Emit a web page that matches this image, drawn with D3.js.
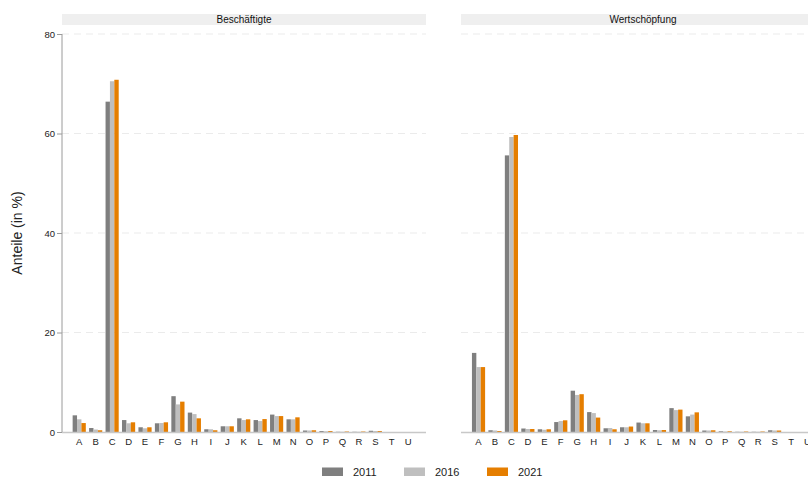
<!DOCTYPE html>
<html><head><meta charset="utf-8">
<script src="https://cdn.jsdelivr.net/npm/d3@7"></script>
<style>body{margin:0;background:#fff;}svg{display:block;font-family:"Liberation Sans",Arial,sans-serif;}</style>
</head><body><svg id="c" width="808" height="478"></svg>
<script>
const categories = ["A","B","C","D","E","F","G","H","I","J","K","L","M","N","O","P","Q","R","S","T","U"];
const years = ["2011","2016","2021"];
const panels = ["Beschäftigte","Wertschöpfung"];
const yTicks = [0,20,40,60,80];
const colors = ["#7f7f7f","#bfbfbf","#e57e00"];
// Beschäftigte
const besch2011 = [3.35,0.8,66.4,2.4,0.95,1.75,7.2,3.9,0.55,1.15,2.75,2.4,3.5,2.55,0.3,0.2,0.05,0.05,0.25,0,0];
const besch2016 = [2.55,0.5,70.5,1.75,0.75,1.8,5.55,3.6,0.55,1.15,2.4,2.2,3.2,2.55,0.3,0.15,0.05,0.05,0.2,0,0];
const besch2021 = [1.8,0.35,70.8,1.95,0.95,1.95,6.1,2.75,0.35,1.15,2.55,2.6,3.2,2.95,0.35,0.2,0.1,0.1,0.2,0,0];
// Wertschöpfung
const wert2011 = [15.9,0.35,55.6,0.7,0.55,2.0,8.3,4.0,0.75,0.95,1.9,0.4,4.8,3.15,0.3,0.15,0.05,0.05,0.35,0,0];
const wert2016 = [13.05,0.3,59.3,0.6,0.45,2.2,7.45,3.8,0.8,0.95,1.75,0.35,4.4,3.5,0.3,0.1,0.05,0.05,0.3,0,0];
const wert2021 = [13.05,0.2,59.7,0.6,0.55,2.35,7.6,2.9,0.55,1.1,1.75,0.4,4.5,3.95,0.35,0.15,0.1,0.1,0.3,0,0];

const panelData = [[besch2011,besch2016,besch2021],[wert2011,wert2016,wert2021]];
const svg = d3.select("#c");
const panelX = [62, 461];
const panelW = 364;
const y = d3.scaleLinear().domain([0,80]).range([432,34]);

panels.forEach((name, p) => {
  const g = svg.append("g").attr("transform", `translate(${panelX[p]},0)`);
  // strip
  g.append("rect").attr("x",0).attr("y",14).attr("width",panelW).attr("height",11).attr("fill","#efefef");
  g.append("text").attr("x",panelW/2).attr("y",23).attr("text-anchor","middle")
    .attr("font-size",10).attr("fill","#111").text(name);
  // grid
  g.selectAll("line.grid").data(yTicks.filter(d=>d>0)).enter().append("line")
    .attr("x1",0).attr("x2",panelW).attr("y1",d=>y(d)).attr("y2",d=>y(d))
    .attr("stroke","#ebebeb").attr("stroke-width",1).attr("stroke-dasharray","7,5");
  const off = p === 0 ? 9 : 9.3;
  const x = d3.scaleBand().domain(categories).range([off, off + 21*16.45]).paddingInner(0.2).paddingOuter(0.1);
  const xi = d3.scaleBand().domain(years).range([0, x.bandwidth()]);
  years.forEach((yr, k) => {
    g.selectAll(null).data(categories).enter().append("rect")
      .attr("x", d => x(d) + xi(yr))
      .attr("width", xi.bandwidth())
      .attr("y", (d,i) => y(panelData[p][k][i]))
      .attr("height", (d,i) => y(0) - y(panelData[p][k][i]))
      .attr("fill", colors[k]);
  });
  // baseline
  g.append("line").attr("x1",0).attr("x2",panelW).attr("y1",432.5).attr("y2",432.5)
    .attr("stroke","#c8c8c8").attr("stroke-width",1.5);
  // x labels
  g.selectAll(null).data(categories).enter().append("text")
    .attr("x", d => x(d) + x.bandwidth()/2).attr("y", 445)
    .attr("text-anchor","middle").attr("font-size",9.5).attr("fill","#222").text(d=>d);
  if (p === 0) {
    const ax = d3.axisLeft(y).tickValues(yTicks).tickSize(5).tickPadding(2);
    const ag = g.append("g").call(ax);
    ag.select(".domain").attr("stroke","#9a9a9a").attr("d","M0,432V34");
    ag.selectAll(".tick line").attr("stroke","#9a9a9a");
    ag.selectAll(".tick text").attr("font-size",9.5).attr("fill","#222").attr("font-family","Liberation Sans, Arial, sans-serif");
  }
});

svg.append("text").attr("transform","translate(22,233) rotate(-90)")
  .attr("text-anchor","middle").attr("font-size",14).attr("fill","#222").text("Anteile (in %)");

const legX = [322, 404, 487];
years.forEach((yr,k) => {
  svg.append("rect").attr("x",legX[k]).attr("y",467.5).attr("width",21).attr("height",8.5).attr("fill",colors[k]);
  svg.append("text").attr("x",legX[k]+31).attr("y",476).attr("font-size",11).attr("fill","#222").text(yr);
});
</script></body></html>
